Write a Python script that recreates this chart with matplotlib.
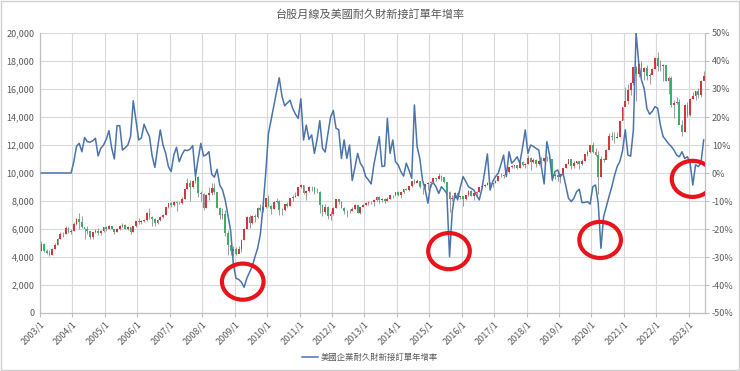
import matplotlib
matplotlib.use("Agg")
import matplotlib.pyplot as plt
from matplotlib.patches import Ellipse, Rectangle
from matplotlib.lines import Line2D
from matplotlib.ticker import FuncFormatter, MultipleLocator

plt.rcParams["font.family"] = ["Noto Sans CJK TC", "DejaVu Sans"]

# 2003/1 .. 2023/6 monthly
years = list(range(2003, 2024))
first_open = 4452

taiex_close = [
    4941, 4432, 4321, 4148, 4556, 4872, 5318, 5650, 5611, 6045, 5771, 5890,
    6375, 6750, 6522, 6117, 5977, 5840, 5420, 5765, 5845, 5706, 5845, 6140,
    5994, 6207, 6006, 5819, 6012, 6241, 6312, 6033, 6118, 5764, 6204, 6548,
    6532, 6561, 6613, 7171, 6847, 6704, 6455, 6612, 6884, 7021, 7567, 7823,
    7699, 7901, 7884, 7875, 8145, 8883, 9287, 8982, 9411, 9711, 8586, 8506,
    7521, 8413, 8572, 8919, 8619, 7524, 7024, 7046, 5719, 4871, 4460, 4591,
    4248, 4557, 5211, 5993, 6890, 6432, 6958, 6826, 7509, 7340, 7582, 8188,
    7640, 7436, 7920, 8004, 7374, 7329, 7761, 7616, 8238, 8287, 8372, 8973,
    9145, 8600, 8683, 9008, 8988, 8653, 8644, 7742, 7225, 7588, 6904, 7072,
    7517, 8121, 7933, 7501, 7301, 7296, 7270, 7397, 7715, 7166, 7580, 7700,
    7850, 7908, 7919, 8094, 8254, 8062, 8108, 8022, 8174, 8450, 8407, 8612,
    8462, 8640, 8849, 8792, 9075, 9394, 9316, 9436, 8967, 8974, 9187, 9307,
    9361, 9622, 9586, 9820, 9701, 9323, 8665, 8175, 8181, 8554, 8320, 8338,
    8145, 8411, 8745, 8377, 8536, 8667, 9007, 9069, 9167, 9290, 9240, 9254,
    9448, 9751, 9811, 9872, 10041, 10395, 10503, 10586, 10384, 10794, 10560, 10643,
    11104, 10815, 10919, 10658, 10875, 10837, 11057, 11064, 11006, 9802, 9888, 9727,
    9932, 10389, 10641, 10968, 10498, 10731, 10823, 10618, 10830, 11358, 11490, 11997,
    11495, 11292, 9708, 10992, 10942, 11621, 12665, 12592, 12516, 12546, 13723, 14733,
    15139, 15953, 16431, 17567, 17068, 17755, 17248, 17490, 16935, 16987, 17428, 18219,
    17674, 17652, 17693, 16593, 16807, 14826, 15000, 15095, 13425, 12950, 14880, 14138,
    15265, 15504, 15868, 15579, 16579, 16916,
]

taiex_high = [
    5141, 4980, 4590, 4520, 4650, 5010, 5340, 5780, 5800, 6180, 6140, 6000,
    6480, 6800, 7135, 6900, 6100, 6250, 5850, 5800, 6000, 6050, 5950, 6160,
    6200, 6280, 6230, 6030, 6100, 6300, 6400, 6350, 6180, 6150, 6250, 6590,
    6780, 6650, 6680, 7250, 7475, 6960, 6800, 6690, 6940, 7090, 7590, 7830,
    7960, 8000, 7980, 8000, 8300, 8940, 9620, 9490, 9490, 9860, 9810, 8680,
    8560, 8500, 9000, 9310, 9300, 8630, 7570, 7480, 7360, 5950, 5200, 4800,
    4700, 4760, 5300, 6050, 6950, 6970, 7000, 7100, 7600, 7800, 7780, 8190,
    8395, 7700, 8020, 8200, 8050, 7500, 7770, 7900, 8240, 8440, 8640, 8990,
    9220, 9150, 8800, 9100, 9080, 9030, 8950, 8700, 7800, 7790, 7620, 7280,
    7560, 8170, 8170, 8000, 7560, 7370, 7460, 7590, 7780, 7720, 7600, 7790,
    7900, 8020, 7980, 8130, 8390, 8330, 8190, 8200, 8320, 8460, 8450, 8620,
    8690, 8650, 8870, 8950, 9100, 9410, 9600, 9570, 9450, 9020, 9220, 9370,
    9420, 9640, 9660, 10010, 9830, 9720, 9390, 8700, 8400, 8660, 8720, 8380,
    8340, 8450, 8810, 8800, 8560, 8680, 9030, 9140, 9230, 9350, 9390, 9280,
    9470, 9780, 9970, 9900, 10100, 10400, 10560, 10600, 10600, 10820, 10860, 10700,
    11270, 11110, 11050, 11030, 10930, 11110, 11090, 11250, 11060, 11010, 10010, 10030,
    9960, 10390, 10680, 11000, 11000, 10850, 10890, 10860, 10970, 11360, 11620, 12000,
    12200, 11790, 11570, 11200, 11090, 11680, 12870, 12950, 12900, 12950, 13720, 14730,
    16150, 16350, 16480, 17600, 17660, 17760, 18000, 17590, 17720, 17140, 17500, 18280,
    18620, 18080, 17800, 17600, 16900, 16930, 15200, 15440, 15270, 13790, 14900, 15060,
    15330, 15800, 15880, 16070, 16640, 17290,
]

taiex_low = [
    4440, 4390, 4250, 4044, 4130, 4560, 4870, 5300, 5430, 5640, 5720, 5650,
    5880, 6300, 6020, 6100, 5300, 5610, 5320, 5255, 5700, 5600, 5550, 5780,
    5830, 5970, 5980, 5630, 5780, 5960, 6150, 5990, 5950, 5620, 5760, 6170,
    6360, 6380, 6470, 6600, 6690, 6230, 6250, 6330, 6560, 6820, 7010, 7510,
    7600, 7670, 7310, 7760, 7780, 8170, 8870, 8000, 8940, 9270, 8300, 7980,
    7380, 7480, 8070, 8400, 8530, 7500, 6710, 6710, 5530, 4110, 4170, 4090,
    4160, 4280, 4330, 5210, 5970, 6100, 6350, 6470, 6780, 7260, 7220, 7530,
    7580, 7080, 7440, 7840, 7030, 7030, 7280, 7560, 7610, 8020, 8320, 8350,
    8930, 8480, 8070, 8630, 8720, 8480, 8600, 7150, 6960, 7070, 6690, 6650,
    7000, 7510, 7800, 7490, 7060, 6860, 7150, 7300, 7430, 7120, 7080, 7560,
    7700, 7730, 7770, 7670, 8010, 7840, 7950, 7860, 7980, 8160, 8240, 8350,
    8360, 8240, 8600, 8770, 8700, 9030, 9240, 9350, 8900, 8500, 8890, 8800,
    9030, 9320, 9450, 9580, 9460, 9260, 8440, 7200, 8000, 8200, 8310, 8120,
    7630, 8050, 8360, 8370, 8060, 8340, 8660, 8940, 8980, 9120, 8850, 9010,
    9260, 9420, 9730, 9660, 9850, 9990, 10370, 10380, 10270, 10390, 10480, 10330,
    10650, 10190, 10680, 10410, 10550, 10630, 10760, 10890, 10850, 9400, 9590, 9400,
    9320, 9890, 10330, 10650, 10270, 10330, 10660, 10300, 10560, 10830, 11220, 11440,
    11450, 11180, 8520, 9680, 10760, 10980, 11720, 12380, 12170, 12470, 12590, 13760,
    14900, 14900, 15590, 16310, 15160, 16880, 16850, 16650, 16620, 16380, 17100, 17420,
    17310, 17260, 16540, 16580, 15620, 14710, 13930, 14950, 13520, 12630, 12960, 14020,
    14100, 15260, 15210, 15380, 15440, 16620,
]

# US durable goods new orders, YoY %
durable_yoy = [
    0, 0, 0, 0, 0, 0, 0, 0, 0, 0, 0, 0,
    4.0, 9.5, 10.6, 7.6, 12.7, 11.2, 11.0, 11.5, 12.4, 6.1, 8.8, 10.0,
    12.0, 15.1, 9.0, 5.0, 16.9, 16.9, 8.2, 9.0, 10.0, 13.0, 25.8, 18.9,
    11.8, 12.5, 17.4, 15.0, 13.0, 6.0, 2.0, 9.0, 15.4, 10.0, 7.0, 2.3,
    0.5, 6.4, 9.2, 4.0, 6.5, 8.2, 8.0, 8.5, 9.8, -1.3, 5.0, 10.6,
    6.1, 6.5, 7.6, -0.4, -1.5, 1.3, -4.3, -6.0, -9.6, -15.0, -20.4, -32.3,
    -37.6, -38.0, -39.0, -40.8, -37.6, -35.5, -33.4, -30.0, -26.9, -22.0, -12.0, 0.0,
    14.0, 19.0, 24.0, 29.0, 34.0, 27.5, 24.0, 25.0, 26.0, 23.0, 21.0, 19.5,
    26.5, 11.8, 17.1, 12.0, 13.6, 7.0, 12.0, 18.7, 8.8, 7.5, 14.0, 20.0,
    22.3, 16.0, 15.5, 5.2, 11.8, 5.2, 10.0, -2.7, 2.0, 7.0, 3.5, 2.0,
    -1.3, -2.5, -3.9, 2.9, 8.0, 13.0, 2.3, 2.5, 19.5, 7.0, 11.8, 4.0,
    2.9, 0.5, -1.1, 3.5, 1.0, -1.9, 24.3, 9.4, 5.2, -2.5, -6.0, -10.8,
    -4.3, -3.5, -4.9, -7.3, -4.9, -6.0, -7.3, -29.9, -13.8, -7.3, -9.6, -5.0,
    -1.3, -3.0, -4.9, -5.5, -6.1, -8.0, -9.6, -5.5, 0.5, 6.8, -6.1, -3.0,
    -1.3, -0.1, 3.0, 6.4, -1.3, 7.6, 3.5, 4.5, 5.8, 3.5, 9.0, 15.4,
    7.0, 10.0, 9.5, 8.8, 8.2, 2.0, -3.9, 11.2, 6.4, -2.5, 0.5, 1.1,
    -1.3, -0.1, -4.5, -9.0, -10.2, -9.0, -6.7, -5.8, -10.6, -10.5, -10.2, -11.1,
    -4.9, -4.3, -10.8, -26.9, -15.6, -12.0, -8.4, -5.0, -1.0, 2.3, 4.1, 8.0,
    15.4, 6.4, 6.0, 15.4, 50.0, 39.2, 33.2, 30.2, 23.1, 21.0, 22.0, 23.7,
    23.1, 17.1, 13.0, 11.8, 10.5, 9.5, 8.2, 6.4, 5.8, 7.6, 5.2, 5.8,
    3.5, -4.3, 2.9, 2.3, 3.5, 11.8,
]

# red circles: (month index, yoy %)
highlights = [(74.5, -38.8), (150.8, -27.9), (206.7, -23.9), (240.9, -2.1)]

n = len(taiex_close)
x = list(range(n))
taiex_open = [first_open] + taiex_close[:-1]

up_color = "#d1373c"
down_color = "#3fae6a"
line_color = "#4a74aa"
text_color = "#595959"
grid_color = "#d9d9d9"

fig = plt.figure(figsize=(7.4, 3.71), dpi=100)
ax = fig.add_axes([40 / 740, 1 - 313 / 371, 665 / 740, 280 / 371])
ax2 = ax.twinx()

colors = [up_color if c >= o else down_color for o, c in zip(taiex_open, taiex_close)]
ax.vlines(x, taiex_low, taiex_high, color="#8c8c8c", lw=0.6, zorder=2)
ax.bar(x, [c - o for o, c in zip(taiex_open, taiex_close)], bottom=taiex_open,
       width=0.65, color=colors, linewidth=0, zorder=3)

ax2.plot(x, durable_yoy, color=line_color, lw=1.1, zorder=4)
for cx, cy in highlights:
    ax2.add_patch(Ellipse((cx, cy), 15.4, 12.9, fill=False, edgecolor="#e8141b",
                          lw=3, zorder=5))

ax.set_xlim(-0.5, n - 0.5)
ax.set_ylim(0, 20000)
ax2.set_ylim(-50, 50)

year_pos = [12 * i - 0.5 for i in range(len(years))]
ax.set_xticks(year_pos)
ax.set_xticklabels([f"{y}/1" for y in years], rotation=45, ha="right",
                   rotation_mode="anchor", fontsize=6.5, color=text_color)
ax.yaxis.set_major_locator(MultipleLocator(2000))
ax.yaxis.set_major_formatter(FuncFormatter(lambda v, p: f"{int(v):,}"))
ax2.yaxis.set_major_locator(MultipleLocator(10))
ax2.yaxis.set_major_formatter(FuncFormatter(lambda v, p: f"{int(round(v))}%"))

ax.grid(True, color=grid_color, lw=0.8)
ax.set_axisbelow(True)
ax.tick_params(axis="x", length=3, color="#bfbfbf", pad=2)
ax.tick_params(axis="y", length=0, labelsize=6.5, labelcolor=text_color, pad=4)
ax2.tick_params(axis="y", length=3, color="#bfbfbf", labelsize=6.5,
                labelcolor=text_color, pad=2)

for a in (ax, ax2):
    a.spines["top"].set_visible(False)
    a.spines["left"].set_color("#bfbfbf")
    a.spines["right"].set_color("#bfbfbf")
    a.spines["bottom"].set_color("#bfbfbf")

fig.text(0.5, 1 - 14 / 371, "台股月線及美國耐久財新接訂單年增率", ha="center",
         va="center", fontsize=8, color=text_color)

handle = Line2D([], [], color=line_color, lw=1.1)
fig.legend([handle], ["美國企業耐久財新接訂單年增率"], loc="center",
           bbox_to_anchor=(0.5, 1 - 357 / 371), frameon=False, fontsize=6,
           handlelength=2, handletextpad=0.3, labelcolor=text_color)

fig.patches.append(Rectangle((0.001, 0.003), 0.998, 0.994, transform=fig.transFigure,
                             fill=False, edgecolor="#d0d0d0", lw=1))

fig.savefig("out.png", dpi=100)
